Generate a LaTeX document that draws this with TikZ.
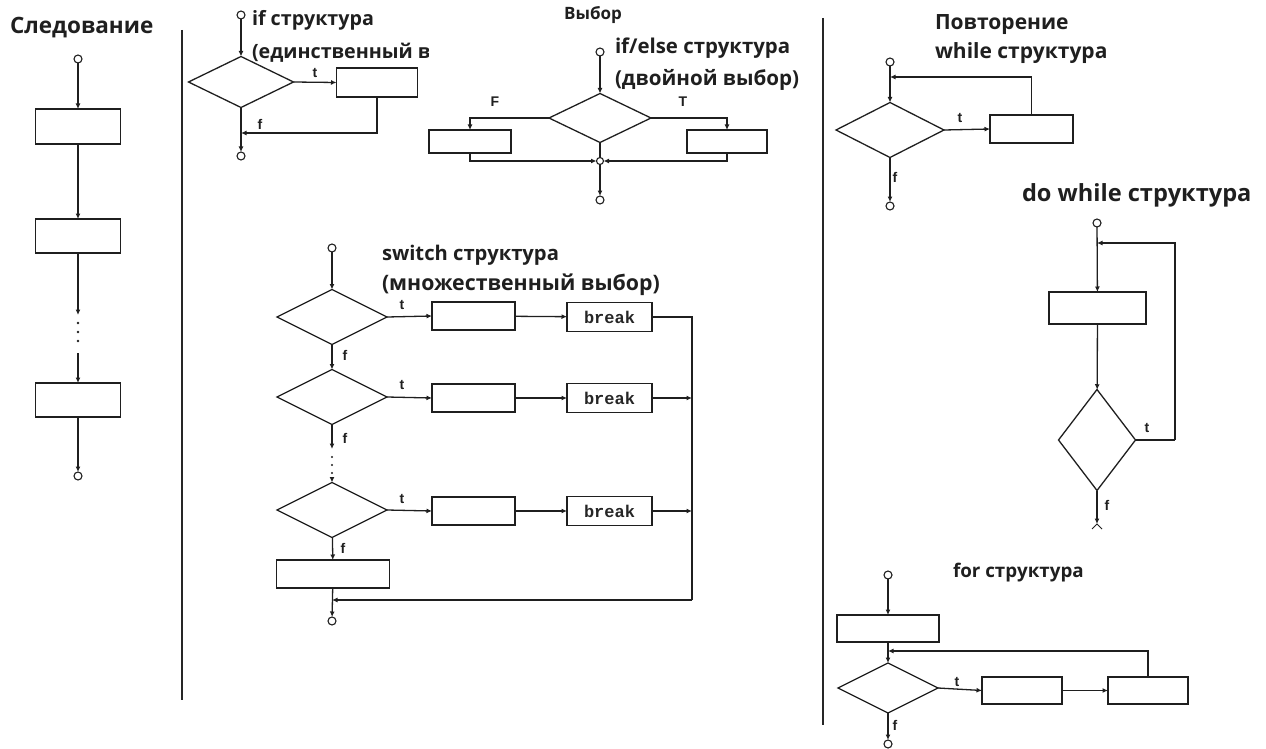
\documentclass[tikz,border=0pt]{standalone}
\usepackage{fontspec}
\setmainfont{Open Sans}
\newfontfamily\labfont{Liberation Sans}
\newfontfamily\monob{Liberation Mono}
\usetikzlibrary{shapes.geometric,arrows.meta,calc}
\newcommand\tsize[1]{\bfseries\fontsize{#1}{#1}\selectfont}
\begin{document}
\begin{tikzpicture}[x=1pt,y=-1pt,
  every node/.style={inner sep=0pt,outer sep=0pt},
  flow/.style={line width=1.3pt,draw=black!88},
  arr/.style={flow,-{Latex[length=5.5pt,width=5pt]}},
  proc/.style={draw=black!88,line width=1.3pt,rectangle},
  cond/.style={draw=black!88,line width=1.3pt,diamond},
  term/.style={draw=black!88,line width=1.1pt,circle,minimum size=8pt},
  ttl/.style={font=\tsize{21},anchor=west,text=black!88},
  lbl/.style={font=\labfont\bfseries\fontsize{14}{15}\selectfont,text=black!88},
  brk/.style={font=\monob\bfseries\fontsize{17}{17}\selectfont,text=black!85}]
\useasboundingbox (0,0) rectangle (1266,749);

% separators
\draw[line width=2.2pt,black!85] (182,30) -- (182,700);
\draw[line width=2.2pt,black!85] (823,18) -- (823,725);

% ---------- sequence ----------
\node[ttl,font=\tsize{22.5}] (tseq) at (10,28) {Следование};
\node[term] (s0) at (78,59) {};
\node[proc,minimum width=85pt,minimum height=35pt] (b1) at (78,126.5) {};
\node[proc,minimum width=85pt,minimum height=34pt] (b2) at (78,236) {};
\node[proc,minimum width=85pt,minimum height=34pt] (b3) at (78,400) {};
\node[term] (s1) at (78,476) {};
\coordinate (sd1) at (78,315);
\coordinate (sd2) at (78,353);
\draw[arr] (s0) -- (b1);
\draw[arr] (b1) -- (b2);
\draw[arr] (b2) -- (sd1);
\foreach \yy in {323,332,341} \fill[black!88] (78,\yy) circle (1.3pt);
\draw[arr] (sd2) -- (b3);
\draw[arr] (b3) -- (s1);

% ---------- if ----------
\node[term] (ifS) at (241,15) {};
\node[cond,minimum width=105pt,minimum height=51pt] (ifD) at (241,82) {};
\node[proc,minimum width=81pt,minimum height=29pt] (ifB) at (377,82.5) {};
\node[term] (ifE) at (241,156) {};
\coordinate (ifJ) at (241,133);
\node[ttl,font=\tsize{19.7}] (tif) at (252,20) {if структура};
\begin{scope}
  \clip (250,38) rectangle (428,70);
  \node[ttl,font=\tsize{19.7}] (tif2) at (252,53) {(единственный выбор)};
\end{scope}
\draw[arr] (ifS) -- (ifD);
\draw[arr] (ifD.east) -- node[lbl,above=5pt] {t} (ifB.west);
\draw[arr] (ifB.south) |- (ifJ);
\node[lbl] at (260,124) {f};
\draw[arr] (ifD.south) -- (ifE);

% ---------- if/else ----------
\node[font=\tsize{17},text=black!88] (tsel) at (593,15) {Выбор};
\node[ttl,font=\tsize{20.4}] (tie1) at (615,48) {if/else структура};
\node[ttl,font=\tsize{20.6}] (tie2) at (615,80) {(двойной выбор)};
\node[term] (ieS) at (600,52) {};
\node[cond,minimum width=102pt,minimum height=49pt] (ieD) at (600,118) {};
\node[proc,minimum width=82pt,minimum height=23pt] (ieL) at (470,141.5) {};
\node[proc,minimum width=80pt,minimum height=23pt] (ieR) at (727,141.5) {};
\node[term,minimum size=7pt] (ieJ) at (600,161) {};
\node[term] (ieE) at (600,200) {};
\draw[arr] (ieS) -- (ieD);
\draw[arr] (ieD.west) -| (ieL.north);
\draw[arr] (ieD.east) -| (ieR.north);
\node[lbl] at (495,102) {F};
\node[lbl] at (683,102) {T};
\draw[arr] (ieL.south) |- (ieJ.west);
\draw[arr] (ieR.south) |- (ieJ.east);
\draw[flow] (ieD.south) -- (ieJ.north);
\draw[arr] (ieJ.south) -- (ieE);

% ---------- switch ----------
\node[ttl,font=\tsize{20.2}] (tsw1) at (382,255) {switch структура};
\node[ttl,font=\tsize{21.3}] (tsw2) at (382,285) {(множественный выбор)};
\node[term] (swS) at (332,248) {};
\node[cond,minimum width=110pt,minimum height=55pt] (d1) at (332,317) {};
\node[cond,minimum width=110pt,minimum height=55pt] (d2) at (332,397) {};
\node[cond,minimum width=110pt,minimum height=55pt] (d3) at (332,510) {};
\node[proc,minimum width=83pt,minimum height=28pt] (p1) at (473.5,316) {};
\node[proc,minimum width=83pt,minimum height=28pt] (p2) at (473.5,398) {};
\node[proc,minimum width=83pt,minimum height=28pt] (p3) at (473.5,511) {};
\node[proc,minimum width=85pt,minimum height=29pt,brk] (k1) at (609.5,317) {break};
\node[proc,minimum width=85pt,minimum height=29pt,brk] (k2) at (609.5,398) {break};
\node[proc,minimum width=85pt,minimum height=29pt,brk] (k3) at (609.5,511) {break};
\node[proc,minimum width=113pt,minimum height=28pt] (fb) at (333,574) {};
\node[term] (swE) at (332,621) {};
\coordinate (rTop) at (692,317);
\coordinate (r2) at (692,398);
\coordinate (r3) at (692,511);
\coordinate (rBot) at (692,600);
\coordinate (swJ) at (332,600);
\coordinate (sw1) at (332,449);
\coordinate (sw2) at (332,477);
\draw[arr] (swS) -- (d1);
\draw[arr] (d1.east) -- (p1.west);
\draw[arr] (d2.east) -- (p2.west);
\draw[arr] (d3.east) -- (p3.west);
\draw[arr] (p1) -- (k1);
\draw[arr] (p2) -- (k2);
\draw[arr] (p3) -- (k3);
\draw[arr] (k2) -- (r2);
\draw[arr] (k3) -- (r3);
\draw[flow] (k1.east) -- (rTop) -- (rBot);
\draw[arr] (rBot) -- (swJ);
\draw[arr] (d1) -- (d2);
\draw[arr] (d2.south) -- (sw1);
\foreach \yy in {457,465,473} \fill[black!88] (332,\yy) circle (1.2pt);
\draw[arr] (sw2) -- (d3.north);
\draw[arr] (d3) -- (fb);
\draw[arr] (fb) -- (swE);
\node[lbl] at (402,305) {t};
\node[lbl] at (402,385) {t};
\node[lbl] at (402,499) {t};
\node[lbl] at (345,355) {f};
\node[lbl] at (345,438) {f};
\node[lbl] at (343,548) {f};

% ---------- while ----------
\node[ttl] (tw1) at (935,25) {Повторение};
\node[ttl] (tw2) at (935,53) {while структура};
\node[term] (wS) at (890,62) {};
\node[cond,minimum width=108pt,minimum height=55pt] (wD) at (890,130) {};
\node[proc,minimum width=83pt,minimum height=28pt] (wB) at (1031.5,129) {};
\node[term] (wE) at (890,206) {};
\coordinate (wJ) at (890,77);
\draw[arr] (wS) -- (wD);
\draw[arr] (wD.east) -- (wB.west);
\draw[arr] (wB.north) |- (wJ);
\draw[arr] (wD) -- (wE);
\node[lbl] at (960,118) {t};
\node[lbl] at (895,177) {f};

% ---------- do while ----------
\node[ttl,font=\tsize{23.6}] (tdw) at (1022,195) {do while структура};
\node[term] (dS) at (1097,223) {};
\node[proc,minimum width=97pt,minimum height=32pt] (dB) at (1097.5,308) {};
\node[cond,minimum width=77pt,minimum height=101pt] (dD) at (1097,440) {};
\coordinate (dJ) at (1097,243);
\coordinate (dR) at (1175,440);
\coordinate (dEnd) at (1097,524);
\draw[arr] (dS) -- (dB);
\draw[arr] (dB) -- (dD);
\draw[flow] (dD.east) -- (dR);
\draw[arr] (dR) |- (dJ);
\draw[arr] (dD.south) -- (dEnd);
\draw[flow,line width=1pt] (1092,529) -- (dEnd) -- (1102,529);
\node[lbl] at (1147,428) {t};
\node[lbl] at (1107,505) {f};

% ---------- for ----------
\node[ttl,font=\tsize{18.8}] (tfor) at (953,573) {for структура};
\node[term] (fS) at (888,575) {};
\node[proc,minimum width=102pt,minimum height=27pt] (fI) at (888,628.5) {};
\node[cond,minimum width=100pt,minimum height=50pt] (fD) at (888,688) {};
\node[proc,minimum width=80pt,minimum height=27pt] (fB1) at (1022,690.5) {};
\node[proc,minimum width=80pt,minimum height=27pt] (fB2) at (1148,690.5) {};
\node[term] (fE) at (888,744) {};
\coordinate (fJ) at (888,651);
\draw[arr] (fS) -- (fI);
\draw[arr] (fI) -- (fD);
\draw[arr] (fB2.north) |- (fJ);
\draw[arr] (fD.east) -- (fB1.west);
\draw[arr] (fB1) -- (fB2);
\draw[arr] (fD) -- (fE);
\node[lbl] at (957,682) {t};
\node[lbl] at (895,725) {f};
\end{tikzpicture}
\end{document}
